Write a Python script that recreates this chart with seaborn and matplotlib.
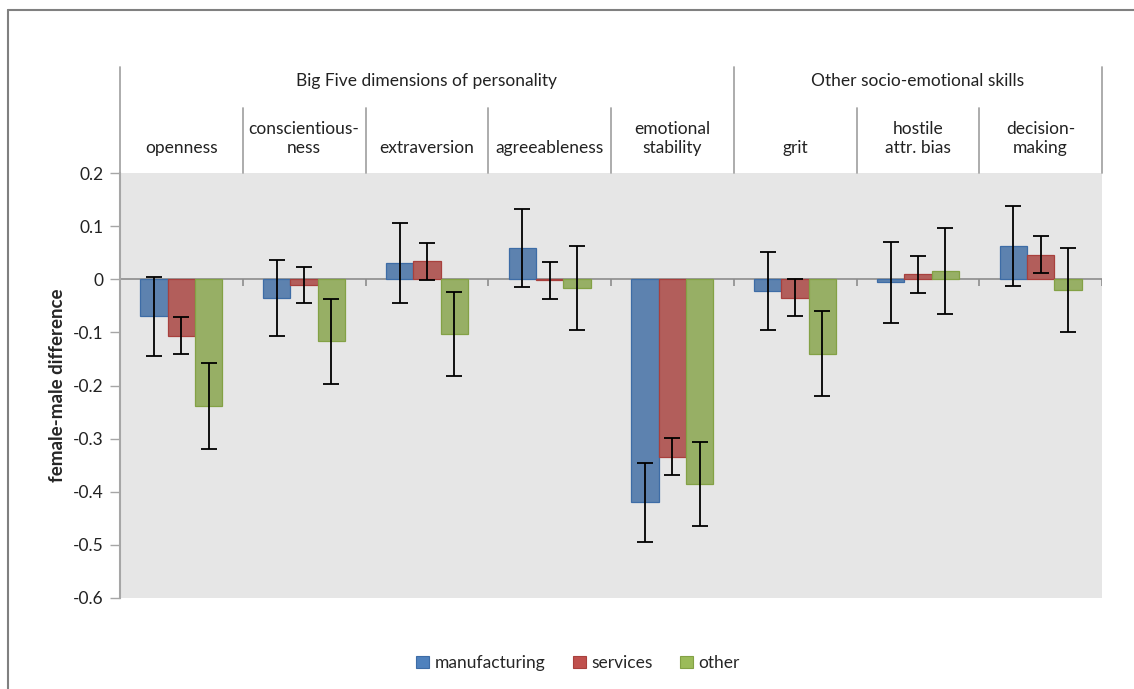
import numpy as np
import pandas as pd
import matplotlib.pyplot as plt
import matplotlib.transforms as mtransforms
from matplotlib.lines import Line2D
import seaborn as sns

# values
skills = ["openness", "conscientious-\nness", "extraversion", "agreeableness",
          "emotional\nstability", "grit", "hostile\nattr. bias", "decision-\nmaking"]
sectors = ["manufacturing", "services", "other"]
manufacturing = [-0.070, -0.035, 0.031, 0.059, -0.420, -0.022, -0.006, 0.062]
services = [-0.106, -0.010, 0.034, -0.002, -0.334, -0.035, 0.009, 0.046]
other = [-0.239, -0.117, -0.103, -0.017, -0.385, -0.140, 0.015, -0.021]
err_manufacturing = [0.075, 0.072, 0.075, 0.074, 0.075, 0.074, 0.077, 0.075]
err_services = [0.035, 0.034, 0.035, 0.035, 0.035, 0.035, 0.035, 0.035]
err_other = [0.081, 0.080, 0.079, 0.079, 0.079, 0.080, 0.081, 0.079]
groups = ["Big Five dimensions of personality", "Other socio-emotional skills"]
group_span = [(0, 4), (5, 7)]
yticks = [0.2, 0.1, 0, -0.1, -0.2, -0.3, -0.4, -0.5, -0.6]
ytick_labels = ["0.2", "0.1", "0", "-0.1", "-0.2", "-0.3", "-0.4", "-0.5", "-0.6"]

colors = ["#4F81BD", "#C0504D", "#9BBB59"]
edges = ["#3D6CA6", "#A8403D", "#83A145"]

df = pd.DataFrame({
    "skill": skills * 3,
    "sector": np.repeat(sectors, len(skills)),
    "value": manufacturing + services + other,
})
errs = [err_manufacturing, err_services, err_other]
vals = [manufacturing, services, other]

sns.set_theme(style="white")
plt.rcParams["font.family"] = ["Lato", "DejaVu Sans"]

fig = plt.figure(figsize=(11.34, 6.89), dpi=100)
ax = fig.add_axes([120 / 1134, 1 - 598 / 689, 982 / 1134, 425 / 689])
ax.set_facecolor("#E6E6E6")

sns.barplot(data=df, x="skill", y="value", hue="sector", order=skills,
            hue_order=sectors, palette=colors, width=0.667, errorbar=None,
            linewidth=0.9, ax=ax, legend=False, zorder=3)

bar_sets = list(ax.containers)
for i, cont in enumerate(bar_sets):
    for patch in cont.patches:
        patch.set_edgecolor(edges[i])
    xs = [p.get_x() + p.get_width() / 2 for p in cont.patches]
    ax.errorbar(xs, vals[i], yerr=errs[i], fmt="none", ecolor="black",
                elinewidth=1.3, capsize=5.5, capthick=1.3, zorder=4)

ax.set_xlim(-0.5, 7.5)
ax.set_ylim(-0.6, 0.2)
ax.set_yticks(yticks)
ax.set_yticklabels(ytick_labels, fontsize=12.5, color="#222222")
ax.set_xticks([])
ax.set_xlabel("")
ax.set_ylabel("female-male difference", fontsize=13.5, fontweight="bold",
              labelpad=5)
ax.tick_params(axis="y", direction="out", length=7, width=1,
               color="#A6A6A6", left=True, pad=5)
for s in ["top", "right", "bottom"]:
    ax.spines[s].set_visible(False)
ax.spines["left"].set_color("#A6A6A6")
ax.spines["left"].set_linewidth(1.5)

# zero line with small ticks at category boundaries
ax.axhline(0, color="#8C8C8C", lw=1.2, zorder=2)
bounds = np.arange(-0.5, 8, 1)
ax.vlines(bounds[1:], 0, -0.012, color="#8C8C8C", lw=1.2, zorder=2)

# header above the plot area with category and group labels
trans = mtransforms.blended_transform_factory(ax.transData, ax.transAxes)
top = 1 + (173 - 67) / 425
mid = 1 + (173 - 108) / 425
for b in bounds:
    full = b in (-0.5, 4.5, 7.5)
    ax.add_line(Line2D([b, b], [1, top if full else mid], transform=trans,
                       color="#A6A6A6", lw=1.3, clip_on=False))
for i, name in enumerate(skills):
    ax.text(i, 1 + (173 - 156) / 425, name, transform=trans, ha="center",
            va="bottom", multialignment="center", fontsize=12.5,
            color="#222222", linespacing=1.25)
for name, (a, b) in zip(groups, group_span):
    ax.text((a + b) / 2, 1 + (173 - 81) / 425, name, transform=trans,
            ha="center", va="center", fontsize=12.5, color="#222222")

# outer frame of the figure box
fig.add_artist(Line2D([8 / 1134, 8 / 1134], [0, 1 - 10 / 689],
                      transform=fig.transFigure, color="#808080", lw=1.5))
fig.add_artist(Line2D([8 / 1134, 1], [1 - 10 / 689, 1 - 10 / 689],
                      transform=fig.transFigure, color="#808080", lw=1.5))

handles = [plt.Rectangle((0, 0), 1, 1, facecolor=c, edgecolor=e, lw=0.8)
           for c, e in zip(colors, edges)]
fig.legend(handles, sectors, loc="center", ncol=3, frameon=False,
           bbox_to_anchor=(578 / 1134, 1 - 663 / 689), fontsize=12.5,
           handlelength=0.75, handleheight=0.75, handletextpad=0.3,
           columnspacing=1.6)

fig.savefig("out.png", dpi=100)
